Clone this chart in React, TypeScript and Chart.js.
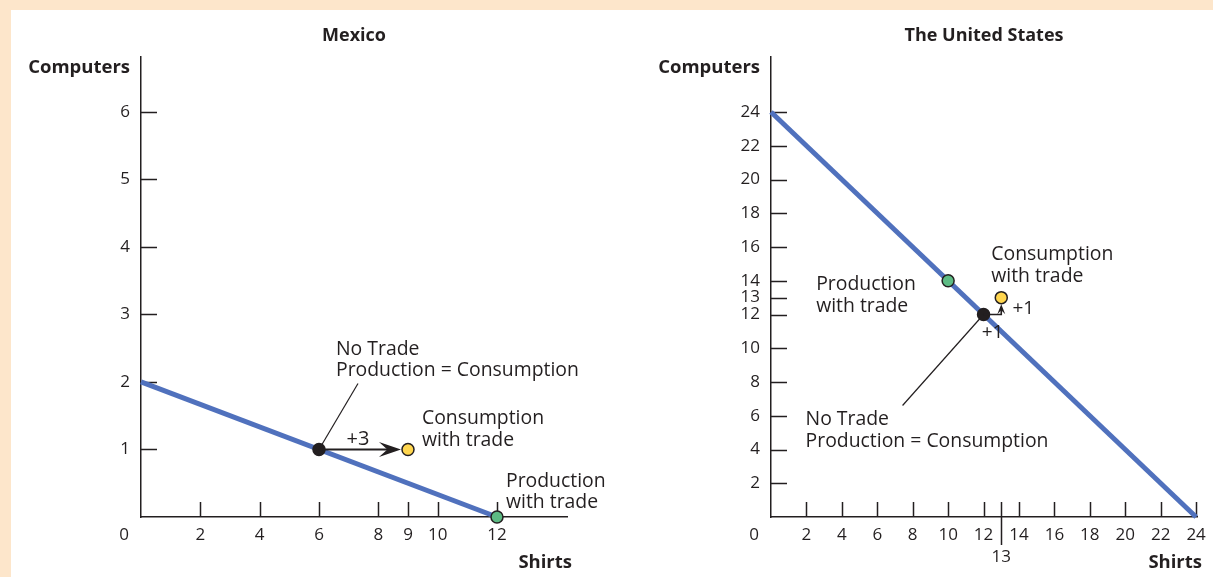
import { useEffect, useRef } from "react";
import { Chart, registerables } from "chart.js";

Chart.register(...registerables);

const SANS = '"Open Sans", "Noto Sans", sans-serif';
const INK = "#231f20";
const FRONTIER = "#5071bd";
const GREEN = "#5dbb84";
const YELLOW = "#ffd64f";
const PEACH = "#fde6cb";

// Mexico: production possibilities frontier and trade points, as [shirts, computers]
const mexicoFrontierShirts = [0, 12];
const mexicoFrontierComputers = [2, 0];
const mexicoNoTrade = [6, 1];
const mexicoProductionWithTrade = [12, 0];
const mexicoConsumptionWithTrade = [9, 1];
const mexicoShirtTicks = [2, 4, 6, 8, 9, 10, 12];
const mexicoComputerTicks = [1, 2, 3, 4, 5, 6];

// United States
const usFrontierShirts = [0, 24];
const usFrontierComputers = [24, 0];
const usNoTrade = [12, 12];
const usProductionWithTrade = [10, 14];
const usConsumptionWithTrade = [13, 13];
const usShirtTicks = [2, 4, 6, 8, 10, 12, 13, 14, 16, 18, 20, 22, 24];
const usComputerTicks = [2, 4, 6, 8, 10, 12, 13, 14, 16, 18, 20, 22, 24];
// shirt tick whose label sits on a second row, reached by a longer tick
const usDroppedShirtTick = 13;

const CANVAS_H = 567;
const TICK_LEN = 15;

type Px = (v: number) => number;

interface PanelSpec {
  title: string;
  frontierX: number[];
  frontierY: number[];
  noTrade: number[];
  production: number[];
  consumption: number[];
  xTicks: number[];
  yTicks: number[];
  xMax: number;
  yMax: number;
  dropped?: number;
  yAxisWidth: number;
  padRight: number;
  decorate: (ctx: CanvasRenderingContext2D, px: Px, py: Px) => void;
}

function text(
  ctx: CanvasRenderingContext2D,
  str: string,
  x: number,
  y: number,
  size: number,
  bold = false,
  align: CanvasTextAlign = "left",
  baseline: CanvasTextBaseline = "alphabetic"
) {
  ctx.save();
  ctx.fillStyle = INK;
  ctx.font = `${bold ? "700" : "400"} ${size}px ${SANS}`;
  ctx.textAlign = align;
  ctx.textBaseline = baseline;
  ctx.fillText(str, x, y);
  ctx.restore();
}

function segment(ctx: CanvasRenderingContext2D, pts: number[][], width: number) {
  ctx.save();
  ctx.strokeStyle = INK;
  ctx.lineWidth = width;
  ctx.lineJoin = "miter";
  ctx.beginPath();
  pts.forEach(([x, y], i) => (i ? ctx.lineTo(x, y) : ctx.moveTo(x, y)));
  ctx.stroke();
  ctx.restore();
}

// concave "stealth" arrow head with its tip at (tx, ty), pointing along (dx, dy)
function arrowHead(
  ctx: CanvasRenderingContext2D,
  tx: number,
  ty: number,
  dx: number,
  dy: number,
  len: number,
  wid: number
) {
  const nx = -dy;
  const ny = dx;
  ctx.save();
  ctx.fillStyle = INK;
  ctx.beginPath();
  ctx.moveTo(tx, ty);
  ctx.lineTo(tx - dx * len + nx * wid / 2, ty - dy * len + ny * wid / 2);
  ctx.lineTo(tx - dx * len * 0.62, ty - dy * len * 0.62);
  ctx.lineTo(tx - dx * len - nx * wid / 2, ty - dy * len - ny * wid / 2);
  ctx.closePath();
  ctx.fill();
  ctx.restore();
}

const mexico: PanelSpec = {
  title: "Mexico",
  frontierX: mexicoFrontierShirts,
  frontierY: mexicoFrontierComputers,
  noTrade: mexicoNoTrade,
  production: mexicoProductionWithTrade,
  consumption: mexicoConsumptionWithTrade,
  xTicks: mexicoShirtTicks,
  yTicks: mexicoComputerTicks,
  xMax: 14.36,
  yMax: 6.81,
  yAxisWidth: 130,
  padRight: 39,
  decorate: (ctx, px, py) => {
    const nx = px(mexicoNoTrade[0]);
    const ny = py(mexicoNoTrade[1]);
    const cx = px(mexicoConsumptionWithTrade[0]);
    const cy = py(mexicoConsumptionWithTrade[1]);
    const gx = px(mexicoProductionWithTrade[0]);
    const gy = py(mexicoProductionWithTrade[1]);

    segment(ctx, [[nx, ny], [nx + 39, ny - 66]], 1.2);
    text(ctx, "No Trade", nx + 17, ny - 94, 19.4);
    text(ctx, "Production = Consumption", nx + 17, ny - 73, 19.4);

    segment(ctx, [[nx, ny], [cx - 16, cy]], 2);
    arrowHead(ctx, cx - 7, cy, 1, 0, 22, 15);
    text(ctx, "+3", nx + 39, ny - 10, 20, false, "center", "middle");

    text(ctx, "Consumption", cx + 14, cy - 25, 19.4);
    text(ctx, "with trade", cx + 14, cy - 3, 19.4);

    text(ctx, "Production", gx + 9, gy - 30, 19.4);
    text(ctx, "with trade", gx + 9, gy - 9, 19.4);
  },
};

const unitedStates: PanelSpec = {
  title: "The United States",
  frontierX: usFrontierShirts,
  frontierY: usFrontierComputers,
  noTrade: usNoTrade,
  production: usProductionWithTrade,
  consumption: usConsumptionWithTrade,
  xTicks: usShirtTicks,
  yTicks: usComputerTicks,
  xMax: 24.05,
  yMax: 27.26,
  dropped: usDroppedShirtTick,
  yAxisWidth: 165,
  padRight: 16,
  decorate: (ctx, px, py) => {
    const nx = px(usNoTrade[0]);
    const ny = py(usNoTrade[1]);
    const cx = px(usConsumptionWithTrade[0]);
    const cy = py(usConsumptionWithTrade[1]);
    const gx = px(usProductionWithTrade[0]);
    const gy = py(usProductionWithTrade[1]);

    segment(ctx, [[nx, ny], [nx - 81, ny + 91]], 1.2);
    text(ctx, "No Trade", nx - 178, ny + 110, 19.4);
    text(ctx, "Production = Consumption", nx - 178, ny + 132, 19.4);

    segment(ctx, [[nx, ny], [cx, ny], [cx, cy + 12]], 1.6);
    arrowHead(ctx, cx, cy + 6.5, 0, -1, 10, 8);
    text(ctx, "+1", cx + 22, cy + 11, 19, false, "center", "middle");
    text(ctx, "+1", nx + 9, ny + 18, 19, false, "center", "middle");

    text(ctx, "Production", gx - 132, gy + 9, 19.4);
    text(ctx, "with trade", gx - 132, gy + 31, 19.4);

    text(ctx, "Consumption", cx - 10, cy - 38, 19.4);
    text(ctx, "with trade", cx - 10, cy - 16, 19.4);
  },
};

function panelPlugin(spec: PanelSpec) {
  return {
    id: "panelDecor",
    beforeDatasetsDraw(chart: any) {
      // inward tick marks on both axes
      const { ctx, chartArea, scales } = chart;
      const { x, y } = scales;
      ctx.save();
      ctx.strokeStyle = INK;
      ctx.lineWidth = 1.5;
      ctx.beginPath();
      spec.xTicks.forEach((v) => {
        const p = Math.round(x.getPixelForValue(v)) + 0.5;
        const below = v === spec.dropped ? 28 : 0;
        ctx.moveTo(p, chartArea.bottom - TICK_LEN);
        ctx.lineTo(p, chartArea.bottom + below);
      });
      spec.yTicks.forEach((v) => {
        const p = Math.round(y.getPixelForValue(v)) + 0.5;
        ctx.moveTo(chartArea.left, p);
        ctx.lineTo(chartArea.left + TICK_LEN + 1, p);
      });
      ctx.stroke();
      ctx.restore();
    },
    afterDatasetsDraw(chart: any) {
      const { ctx, scales } = chart;
      spec.decorate(
        ctx,
        (v) => scales.x.getPixelForValue(v),
        (v) => scales.y.getPixelForValue(v)
      );
    },
    afterDraw(chart: any) {
      const { ctx, chartArea } = chart;
      const mid = (chartArea.left + chartArea.right) / 2;
      text(ctx, spec.title, mid, 31, 18, true, "center");
      text(ctx, "Computers", chartArea.left - 11, 63, 18.5, true, "right");
      text(ctx, "Shirts", chartArea.right + 5, 558, 18.5, true, "right");
      text(ctx, "0", chartArea.left - 17, chartArea.bottom + 18, 17, false, "center", "middle");
    },
  };
}

function buildConfig(spec: PanelSpec): any {
  const pointStyle = {
    pointRadius: 6,
    pointBorderWidth: 1.5,
    pointBorderColor: INK,
    clip: false,
    order: 1,
  };
  const tickFont = { family: SANS, size: 17, lineHeight: 1.3 };
  return {
    type: "scatter",
    data: {
      datasets: [
        {
          data: spec.frontierX.map((x, i) => ({ x, y: spec.frontierY[i] })),
          showLine: true,
          borderColor: FRONTIER,
          borderWidth: 5,
          pointRadius: 0,
          clip: false,
          order: 2,
        },
        {
          data: [{ x: spec.production[0], y: spec.production[1] }],
          pointBackgroundColor: GREEN,
          ...pointStyle,
        },
        {
          data: [{ x: spec.noTrade[0], y: spec.noTrade[1] }],
          pointBackgroundColor: INK,
          ...pointStyle,
        },
        {
          data: [{ x: spec.consumption[0], y: spec.consumption[1] }],
          pointBackgroundColor: YELLOW,
          ...pointStyle,
        },
      ],
    },
    options: {
      responsive: false,
      maintainAspectRatio: false,
      animation: false,
      events: [],
      layout: { padding: { top: 47, left: 0, right: spec.padRight, bottom: 0 } },
      plugins: {
        legend: { display: false },
        tooltip: { enabled: false },
        title: { display: false },
      },
      scales: {
        x: {
          type: "linear",
          min: 0,
          max: spec.xMax,
          grid: { display: false, drawTicks: false },
          border: { display: true, color: INK, width: 1.5 },
          afterBuildTicks: (s: any) => {
            s.ticks = spec.xTicks.map((value) => ({ value }));
          },
          afterFit: (s: any) => {
            s.height = 60;
          },
          ticks: {
            autoSkip: false,
            maxRotation: 0,
            minRotation: 0,
            padding: 7,
            color: INK,
            font: tickFont,
            callback: (v: number) => (v === spec.dropped ? ["", String(v)] : String(v)),
          },
        },
        y: {
          type: "linear",
          min: 0,
          max: spec.yMax,
          grid: { display: false, drawTicks: false },
          border: { display: true, color: INK, width: 1.5 },
          afterBuildTicks: (s: any) => {
            s.ticks = spec.yTicks.map((value) => ({ value }));
          },
          afterFit: (s: any) => {
            s.width = spec.yAxisWidth;
          },
          ticks: {
            autoSkip: false,
            padding: 11,
            color: INK,
            font: tickFont,
            callback: (v: number) => String(v),
          },
        },
      },
    },
    plugins: [panelPlugin(spec)],
  };
}

function Panel({ spec, left, width }: { spec: PanelSpec; left: number; width: number }) {
  const ref = useRef<HTMLCanvasElement>(null);
  useEffect(() => {
    const chart = new Chart(ref.current!, buildConfig(spec));
    return () => chart.destroy();
  }, [spec]);
  return (
    <canvas
      ref={ref}
      width={width}
      height={CANVAS_H}
      style={{ position: "absolute", left, top: 0, width, height: CANVAS_H, display: "block" }}
    />
  );
}

export default function App() {
  return (
    <div
      style={{
        position: "fixed",
        left: 0,
        top: 0,
        width: 1213,
        height: 577,
        background: PEACH,
        overflow: "hidden",
      }}
    >
      <div
        style={{
          position: "absolute",
          left: 11,
          top: 10,
          width: 1202,
          height: CANVAS_H,
          background: "#ffffff",
        }}
      >
        <Panel spec={mexico} left={0} width={595} />
        <Panel spec={unitedStates} left={595} width={607} />
      </div>
    </div>
  );
}
